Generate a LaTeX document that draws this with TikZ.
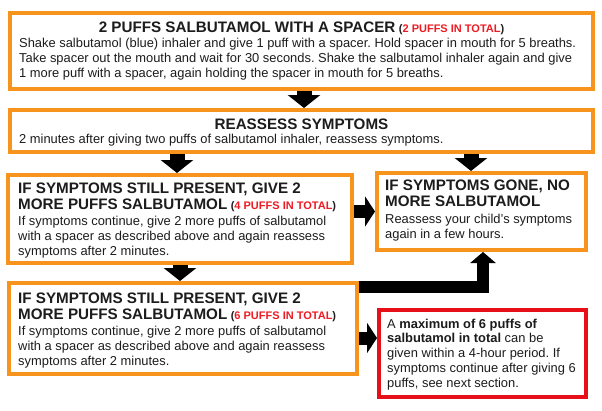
\documentclass[tikz,border=0pt]{standalone}
\usepackage{fontspec}
\setmainfont{Liberation Sans}
\usetikzlibrary{arrows.meta}
\frenchspacing
\definecolor{orng}{RGB}{247,148,30}
\definecolor{redbox}{RGB}{232,16,24}
\definecolor{redtxt}{RGB}{237,28,36}
\definecolor{ink}{RGB}{28,28,28}
\newcommand\ttl[1]{{\fontsize{15.2}{15}\selectfont\bfseries #1}}
\newcommand\rd[1]{{\fontsize{11}{15}\selectfont\bfseries\hspace{3.5pt}(\textcolor{redtxt}{#1})}}
\newcommand\bdy{\fontsize{12.9}{15}\selectfont}
\newcommand\tbox[2]{\parbox[t]{#1}{\raggedright #2}}
\begin{document}
\begin{tikzpicture}[x=1pt,y=-1pt,
  box/.style={rectangle, draw=orng, line width=4pt, fill=white, inner sep=0pt},
  redframe/.style={box, draw=redbox},
  txt/.style={anchor=base west, inner sep=0pt, text=ink},
  arrV/.style={draw=black, line width=15pt, -{Triangle[width=32pt,length=13pt]}},
  arrH/.style={draw=black, line width=13pt, -{Triangle[width=30pt,length=10pt]}},
  arrE/.style={draw=black, line width=12pt, line join=miter, -{Triangle[width=25pt,length=11pt]}}]
\useasboundingbox[fill=white] (0,0) rectangle (602,410);
% boxes
\node[box, minimum width=583pt, minimum height=76pt] (b1) at (301.5,51) {};
\node[box, minimum width=583pt, minimum height=42pt] (b2) at (301.5,131) {};
\node[box, minimum width=344pt, minimum height=88pt] (b3) at (180,219) {};
\node[box, minimum width=209pt, minimum height=77pt] (b4) at (481.5,211.5) {};
\node[box, minimum width=348pt, minimum height=91pt] (b5) at (183,328.5) {};
\node[redframe, minimum width=207pt, minimum height=87pt] (rb) at (482.5,353.5) {};
% helper coordinates
\coordinate (xB) at (177,0);
\coordinate (xC) at (471,0);
\coordinate (xE) at (180,0);
\coordinate (yG) at (0,338);
\coordinate (fA) at (483,287);
% arrows
\draw[arrV] ([xshift=2.5pt]b1.south) -- ([xshift=2.5pt]b2.north);
\draw[arrV] (b2.south -| xB) -- (b3.north -| xB);
\draw[arrV] (b2.south -| xC) -- (b4.north -| xC);
\draw[arrH] (b3.east |- b4.west) -- (b4.west);
\draw[arrV] (b3.south -| xE) -- (b5.north -| xE);
\draw[arrE] (b5.east |- fA) -| (b4.south -| fA);
\draw[arrH] (b5.east |- yG) -- (rb.west |- yG);
% texts
\node[txt, anchor=base] (t1) at (301.5,32) {\ttl{2 PUFFS SALBUTAMOL WITH A SPACER}\rd{2 PUFFS IN TOTAL}};
\node[txt] (t1b) at (19,47) {\tbox{580pt}{\bdy Shake salbutamol (blue) inhaler and give 1 puff with a spacer. Hold spacer in mouth for 5 breaths.\\
Take spacer out the mouth and wait for 30 seconds. Shake the salbutamol inhaler again and give\\
1 more puff with a spacer, again holding the spacer in mouth for 5 breaths.}};
\node[txt, anchor=base] (t2) at (301.5,129) {\ttl{REASSESS SYMPTOMS}};
\node[txt] (t2b) at (19,143) {\bdy 2 minutes after giving two puffs of salbutamol inhaler, reassess symptoms.};
\node[txt] (t3) at (18,193) {\tbox{340pt}{\ttl{IF SYMPTOMS STILL PRESENT, GIVE 2}\\[3pt]
\ttl{MORE PUFFS SALBUTAMOL}\rd{4 PUFFS IN TOTAL}\\[1pt]
\bdy If symptoms continue, give 2 more puffs of salbutamol\\
with a spacer as described above and again reassess\\
symptoms after 2 minutes.}};
\node[txt] (t4) at (385,190) {\tbox{200pt}{\ttl{IF SYMPTOMS GONE, NO}\\[3pt]
\ttl{MORE SALBUTAMOL}\\[2pt]
\bdy Reassess your child’s symptoms\\
again in a few hours.}};
\node[txt] (t5) at (18,303) {\tbox{340pt}{\ttl{IF SYMPTOMS STILL PRESENT, GIVE 2}\\[3pt]
\ttl{MORE PUFFS SALBUTAMOL}\rd{6 PUFFS IN TOTAL}\\[1pt]
\bdy If symptoms continue, give 2 more puffs of salbutamol\\
with a spacer as described above and again reassess\\
symptoms after 2 minutes.}};
\node[txt] (t6) at (387,328) {\tbox{200pt}{\fontsize{12.9}{14.8}\selectfont A \textbf{maximum of 6 puffs of}\\
\textbf{salbutamol in total} can be\\
given within a 4-hour period. If\\
symptoms continue after giving 6\\
puffs, see next section.}};
\end{tikzpicture}
\end{document}
